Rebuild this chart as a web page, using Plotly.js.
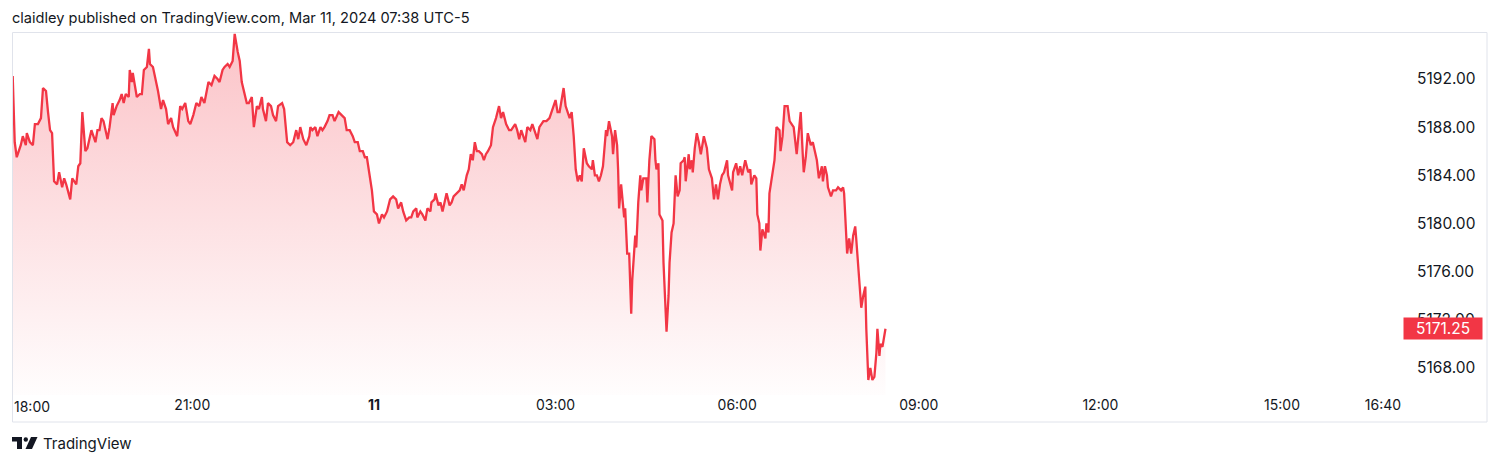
<!DOCTYPE html>
<html><head><meta charset="utf-8">
<script src="https://cdn.plot.ly/plotly-3.0.1.min.js"></script>
<style>html,body{margin:0;padding:0;background:#fff;}#chart{width:1500px;height:465px;}</style>
</head><body><div id="chart"></div>
<script>
// minutes after 2024-03-10 18:00
const minutesFrom1800 = [
2,4,6,7,10,12,15,16,19,22,24,27,30,32,35,37,39,41,43,46,48,51,53,55,59,61,65,67,69,71,
74,76,78,80,84,86,88,90,92,94,96,98,101,102,105,108,110,112,114,117,118,120,121,123,125,128,130,132,135,137,
138,141,143,146,149,151,154,156,159,161,165,168,170,173,176,178,181,184,187,189,192,194,196,199,202,205,207,210,212,215,
217,220,222,225,227,229,232,234,236,239,241,244,246,249,250,253,255,258,260,263,265,269,271,274,277,280,283,285,287,290,
293,296,297,299,302,304,307,309,311,314,316,319,321,325,328,331,333,336,339,341,344,346,349,351,353,355,358,360,363,365,
368,370,373,376,379,382,384,387,389,392,395,397,399,402,403,406,408,411,413,416,417,420,421,424,426,428,430,432,435,437,
439,442,445,447,449,452,454,456,458,460,462,464,467,469,471,473,476,478,481,484,486,488,491,494,496,500,502,504,506,510,
512,515,517,520,522,524,528,531,534,537,540,542,544,548,550,554,556,558,560,562,564,566,568,571,573,576,577,579,581,583,
585,587,588,590,591,593,596,597,599,601,602,603,605,606,608,609,611,613,615,616,619,620,622,624,625,627,630,631,633,635,
638,639,640,642,643,646,647,650,652,653,655,657,659,661,663,664,667,668,669,672,673,675,676,678,680,682,684,686,687,690,
692,695,697,699,701,703,705,707,710,711,715,716,719,721,723,725,728,731,733,734,737,739,740,742,743,745,748,749,751,752,
755,757,759,762,763,765,767,770,772,774,776,779,781,783,785,786,788,790,793,795,797,799,801,804,805,807,809,810,813,815,
818,820,823,825,826,828,829,831,833,835,837,838,841,843,845,847,848,850,852,854,856,858,859,861,862,864,865,867
];
const prices = [
5192.25,5186.75,5185.5,5185.75,5186.5,5187.25,5186.5,5187.5,5186.75,5186.5,5188.25,5188.25,5188.75,5191.25,5191,5189.25,5187.75,5187.5,5183.5,5183.25,5184.25,5183,5183.75,5183.25,5182,5183.75,5183.25,5184.75,5185,5189.25,
5186,5186.25,5187,5187.75,5186.75,5187.75,5187.75,5188.75,5188.5,5187.75,5187,5188,5190,5189,5189.75,5190.25,5190.75,5190,5190.75,5190.5,5192.75,5191.75,5192.5,5191.5,5190.5,5190.75,5190.75,5192.75,5193,5194.5,
5193.25,5193,5192.25,5191,5189.5,5190.25,5189.5,5188.25,5188.75,5188,5187.25,5189.75,5189.5,5190,5188.5,5188.25,5189,5190,5189.75,5190.5,5190,5190.75,5191.75,5191.5,5192.25,5192,5191.75,5192.75,5193,5193.25,
5193,5193.5,5195.75,5194.25,5193.5,5191.75,5190.75,5190,5190,5190.5,5188,5189.75,5189.5,5190.5,5189.5,5188.5,5190,5189.75,5189,5188.5,5189.75,5190,5189.5,5186.75,5186.5,5186.75,5187.75,5187,5188,5187,
5186.5,5187.25,5188,5187.75,5188,5187.25,5188,5187.75,5188,5188.5,5189,5189,5188.5,5189.25,5189,5188.75,5187.75,5187.75,5187.25,5186.75,5186.75,5186,5186,5185.5,5185.5,5184.25,5182.75,5181,5180.75,5180,
5180.75,5180.5,5181,5182,5182.25,5182,5181.25,5181.75,5181,5180.25,5180.5,5180.5,5181,5181.25,5180.5,5181,5180.75,5180.25,5181.25,5181,5181.75,5182,5182.5,5181.5,5181.75,5181,5181.75,5182.5,5181.5,5181.75,
5182.25,5182.5,5182.75,5183.25,5182.75,5184,5184.5,5185.75,5185.25,5186.75,5186,5186,5185.75,5185.25,5185.75,5186,5186.5,5188,5188.75,5189.75,5188.75,5189.25,5188.25,5187.75,5187.75,5188.25,5187.75,5187,5187.75,5186.75,
5188,5187.75,5188.25,5187.5,5187,5188,5188.5,5188.5,5188.75,5189.5,5190.25,5189.25,5189.25,5191.25,5189.75,5188.75,5189.25,5187.25,5184.5,5183.5,5184,5183.5,5186.25,5185,5184.75,5184.5,5185.25,5184,5184,5183.5,
5184,5184.75,5186,5187.75,5187.25,5188.5,5187.25,5185.75,5187.75,5186.5,5184.5,5181.25,5183.25,5182.25,5180.5,5181.25,5177.5,5177.5,5172.5,5175.25,5179,5178,5181.75,5184,5182.75,5183.75,5183.75,5181.75,5185.25,5187.25,
5187,5185.25,5184.5,5185,5180.75,5180.25,5176.75,5171,5174,5176.75,5179.25,5180,5184,5182.25,5182.75,5185,5185.25,5185.5,5183.5,5185.75,5184.5,5185.25,5184.25,5186.25,5187.5,5186.75,5185.75,5186.75,5187.25,5186.25,
5184.5,5183.75,5182,5183.25,5182,5183.25,5184,5184.25,5185.25,5184,5182.75,5184.25,5185,5184,5184.75,5184,5185.25,5184.25,5184.5,5183.25,5184,5183.75,5180.75,5180,5177.75,5179.5,5178.75,5180,5179.25,5182.5,
5184.25,5185.25,5188,5187.75,5186,5187.25,5189.75,5189.75,5188.5,5188.25,5188,5185.75,5187.5,5189.25,5185.75,5184.25,5185.5,5187.5,5186.5,5186.75,5186,5185.25,5183.75,5184.75,5183.5,5184.75,5184,5183,5182.25,5182.75,
5182.75,5183,5182.75,5183,5182.5,5179.75,5177.5,5178.75,5177.5,5179,5179.75,5178.75,5175.25,5173,5174,5174.75,5171.25,5167,5168,5167,5167.25,5169.25,5171.25,5169,5170,5169.75,5170.25,5171.25
];
const tickTimes = ['2024-03-10 21:00','2024-03-11 00:00','2024-03-11 03:00','2024-03-11 06:00','2024-03-11 09:00','2024-03-11 12:00','2024-03-11 15:00','2024-03-11 16:40'];
const tickLabels = ['21:00','<b>11</b>','03:00','06:00','09:00','12:00','15:00','16:40'];
const firstTickLabel = '18:00';
const priceTicks = [5168,5172,5176,5180,5184,5188,5192];
const titleText = 'claidley published on TradingView.com, Mar 11, 2024 07:38 UTC-5';
const brandText = 'TradingView';

function toStamp(m){
  const total = 18*60 + m;
  const day = 10 + Math.floor(total/1440);
  const r = total % 1440;
  const p = n => String(n).padStart(2,'0');
  return `2024-03-${p(day)} ${p(Math.floor(r/60))}:${p(r%60)}`;
}
const times = minutesFrom1800.map(toStamp);
const lastPrice = prices[prices.length-1];

const W = 1500, H = 465;
const M = {l:12, r:95, t:33, b:70};
const PW = W - M.l - M.r, PH = H - M.t - M.b;
const px = X => (X - M.l)/PW;
const py = Y => (H - M.b - Y)/PH;
const yRange = [5165.75, 5195.82];
const red = '#f23645';
const textCol = '#131722';
const FONT = 'Inter, Roboto, "Noto Sans", sans-serif';

const trace = {
  x: times, y: prices, type:'scatter', mode:'lines',
  line:{color:red, width:2.3, shape:'linear'},
  fill:'tozeroy',
  fillgradient:{type:'vertical', start:yRange[0], stop:yRange[1],
    colorscale:[[0,'rgba(242,54,69,0.01)'],[1,'rgba(242,54,69,0.30)']]},
  hoverinfo:'skip'
};

const shapes = [
  {type:'rect', xref:'paper', yref:'paper', x0:px(12.5), x1:px(1487), y0:py(422), y1:py(32.5),
   line:{color:'#e0e3eb', width:1}, fillcolor:'rgba(0,0,0,0)', layer:'above'},
  {type:'path', xref:'paper', yref:'paper', fillcolor:textCol, line:{width:0},
   path:`M${px(12)},${py(437)} L${px(22)},${py(437)} L${px(22)},${py(449)} L${px(17)},${py(449)} L${px(17)},${py(441.5)} L${px(12)},${py(441.5)} Z`},
  {type:'circle', xref:'paper', yref:'paper', fillcolor:textCol, line:{width:0},
   x0:px(23.6), x1:px(28), y0:py(441.7), y1:py(437.3)},
  {type:'path', xref:'paper', yref:'paper', fillcolor:textCol, line:{width:0},
   path:`M${px(31)},${py(437)} L${px(37.5)},${py(437)} L${px(32)},${py(449)} L${px(25.5)},${py(449)} Z`}
];

const annotations = [
  {text:firstTickLabel, xref:'paper', yref:'paper', x:0, y:0, xanchor:'left', yanchor:'top', yshift:-1,
   showarrow:false, font:{family:FONT, size:14, color:textCol}},
  {text:lastPrice.toFixed(2), xref:'paper', yref:'y', x:1, y:lastPrice, xanchor:'left', yanchor:'middle', xshift:-2,
   showarrow:false, bgcolor:red, font:{family:FONT, size:15.5, color:'#ffffff'}, width:72, height:15, borderpad:3, align:'center'},
  {text:brandText, xref:'paper', yref:'paper', x:px(41), y:py(443), xanchor:'left', yanchor:'middle',
   showarrow:false, font:{family:FONT, size:15, color:textCol}}
];

const layout = {
  width:W, height:H, margin:M,
  paper_bgcolor:'#ffffff', plot_bgcolor:'#ffffff',
  showlegend:false,
  title:{text:titleText, x:12/W, xanchor:'left', xref:'container', y:1-18/H, yanchor:'middle', yref:'container',
         font:{family:FONT, size:14.6, color:textCol}},
  xaxis:{type:'date', range:['2024-03-10 18:01:18','2024-03-11 17:01:54'],
    tickmode:'array', tickvals:tickTimes, ticktext:tickLabels,
    showgrid:false, zeroline:false, showline:false, ticks:'',
    tickfont:{family:FONT, size:14, color:textCol}, fixedrange:true},
  yaxis:{side:'right', range:yRange, tickmode:'array', tickvals:priceTicks, tickformat:'.2f',
    showgrid:false, zeroline:false, showline:false, ticks:'outside', ticklen:8, tickcolor:'rgba(0,0,0,0)',
    tickfont:{family:FONT, size:15.5, color:textCol}, fixedrange:true},
  shapes, annotations,
  hovermode:false
};

Plotly.newPlot('chart', [trace], layout, {displayModeBar:false, responsive:false});
</script>
</body></html>
